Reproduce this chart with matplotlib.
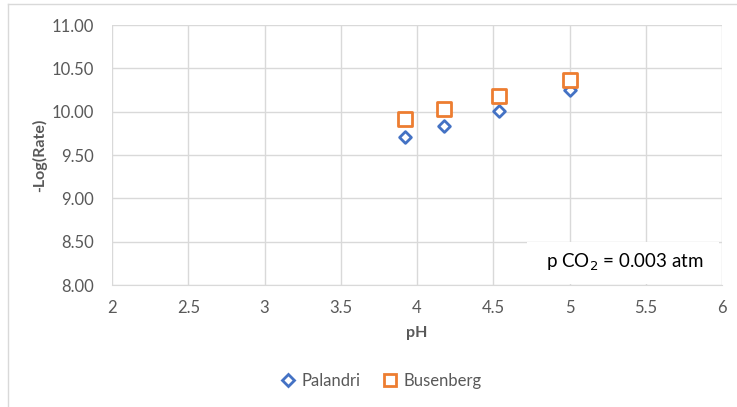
import matplotlib.pyplot as plt
from matplotlib.lines import Line2D
from matplotlib.patches import Rectangle

plt.rcParams['font.family'] = ['Lato', 'DejaVu Sans']

# data
ph_values = [3.92, 4.18, 4.54, 5.00]
palandri = [9.71, 9.84, 10.01, 10.25]
busenberg = [9.92, 10.03, 10.18, 10.36]

x_ticks = [2, 2.5, 3, 3.5, 4, 4.5, 5, 5.5, 6]
x_tick_labels = ['2', '2.5', '3', '3.5', '4', '4.5', '5', '5.5', '6']
y_ticks = [8.0, 8.5, 9.0, 9.5, 10.0, 10.5, 11.0]

blue = '#4472C4'
orange = '#ED7D31'
grid_col = '#d9d9d9'
text_col = '#595959'

fig = plt.figure(figsize=(7.37, 4.07), dpi=100)
ax = fig.add_axes([112 / 737, 1 - 285 / 407, (722 - 112) / 737, (285 - 25) / 407])

ax.scatter(ph_values, palandri, marker='D', s=36, facecolors='white',
           edgecolors=blue, linewidths=2, zorder=3, label='Palandri')
ax.scatter(ph_values, busenberg, marker='s', s=100, facecolors='white',
           edgecolors=orange, linewidths=2, zorder=3, label='Busenberg')

ax.set_xlim(2, 6)
ax.set_ylim(8, 11)
ax.set_xticks(x_ticks)
ax.set_xticklabels(x_tick_labels)
ax.set_yticks(y_ticks)
ax.set_yticklabels([f'{v:.2f}' for v in y_ticks])
ax.tick_params(length=0, labelsize=12, colors=text_col)
ax.tick_params(axis='x', pad=11)
ax.tick_params(axis='y', pad=13)
ax.grid(True, color=grid_col, linewidth=1)
ax.set_axisbelow(True)
for side in ['top', 'right', 'left']:
    ax.spines[side].set_visible(False)
ax.spines['bottom'].set_color(grid_col)

ax.set_xlabel('pH', fontsize=11.5, fontweight='bold', color=text_col, labelpad=7)
ax.set_ylabel('-Log(Rate)', fontsize=11.5, fontweight='bold', color=text_col, labelpad=3)

# annotation box covering grid
box = Rectangle((527 / 737, 1 - 284 / 407), (719 - 527) / 737, (284 - 242) / 407,
                transform=fig.transFigure, facecolor='white', edgecolor='none', zorder=5)
fig.patches.append(box)
fig.text(625 / 737, 1 - 262 / 407, r'p CO$_2$ = 0.003 atm', fontsize=13.5,
         ha='center', va='center', color='black', zorder=6)

# legend
handles = [
    Line2D([], [], marker='D', linestyle='none', markersize=6, markerfacecolor='white',
           markeredgecolor=blue, markeredgewidth=2),
    Line2D([], [], marker='s', linestyle='none', markersize=9, markerfacecolor='white',
           markeredgecolor=orange, markeredgewidth=2),
]
fig.legend(handles, ['Palandri', 'Busenberg'], loc='center', bbox_to_anchor=(380 / 737, 1 - 381 / 407),
           ncol=2, frameon=False, fontsize=12, labelcolor=text_col, handletextpad=0.2,
           columnspacing=1.2, handlelength=1.2)

# chart area border (left and top visible)
fig.add_artist(Line2D([8 / 737, 8 / 737], [0, 1 - 4 / 407], transform=fig.transFigure,
                      color=grid_col, linewidth=1))
fig.add_artist(Line2D([8 / 737, 1], [1 - 4 / 407, 1 - 4 / 407], transform=fig.transFigure,
                      color=grid_col, linewidth=1))

fig.savefig('out.png', dpi=100)
